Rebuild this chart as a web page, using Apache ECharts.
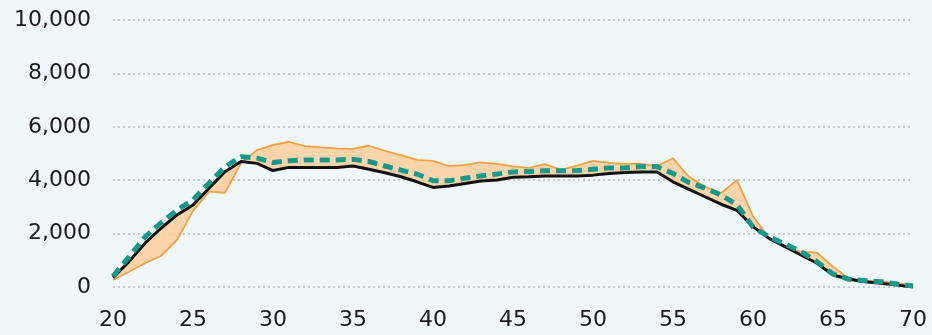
<!DOCTYPE html>
<html>
<head>
<meta charset="utf-8">
<script src="https://cdn.jsdelivr.net/npm/echarts@6/dist/echarts.min.js"></script>
<style>
html,body{margin:0;padding:0;background:#eff7fa;}
#chart{width:932px;height:335px;}
</style>
</head>
<body>
<div id="chart"></div>
<script>
const ages = [20,21,22,23,24,25,26,27,28,29,30,31,32,33,34,35,36,37,38,39,40,41,42,43,44,45,46,47,48,49,50,51,52,53,54,55,56,57,58,59,60,61,62,63,64,65,66,67,68,69,70];
const orangeVals = [260,570,890,1160,1760,2850,3570,3530,4640,5130,5320,5440,5280,5230,5190,5170,5290,5100,4940,4760,4720,4530,4570,4670,4610,4520,4460,4600,4390,4550,4720,4650,4610,4610,4530,4820,4130,3760,3510,4010,2650,1840,1510,1320,1290,760,320,240,200,140,70];
const blackVals = [350,950,1640,2200,2700,3070,3700,4320,4700,4630,4360,4480,4480,4480,4480,4530,4410,4280,4130,3940,3730,3780,3880,3970,4010,4110,4130,4160,4160,4160,4190,4250,4290,4310,4310,3940,3660,3380,3100,2870,2260,1820,1510,1200,890,450,290,200,140,70,0];
const tealVals = [400,1130,1870,2400,2880,3260,3890,4500,4880,4830,4660,4730,4760,4760,4760,4780,4700,4530,4380,4230,3980,3980,4070,4160,4230,4310,4330,4350,4350,4360,4410,4460,4460,4510,4510,4250,3910,3700,3450,3080,2250,1880,1610,1320,950,490,290,240,200,110,40];
const yTicks = [0,2000,4000,6000,8000,10000];
const xTicks = [20,25,30,35,40,45,50,55,60,65,70];

const pairs = arr => ages.map((a,i)=>[a,arr[i]]);
const chart = echarts.init(document.getElementById('chart'), null, {renderer:'canvas'});
const font = '"DejaVu Sans", sans-serif';
chart.setOption({
  backgroundColor:'#eff7fa',
  animation:false,
  grid:{left:113,right:19,top:20,bottom:48},
  xAxis:{
    type:'value', min:xTicks[0], max:xTicks[xTicks.length-1], interval:5,
    axisLine:{show:false}, axisTick:{show:false}, splitLine:{show:false},
    axisLabel:{fontSize:22,color:'#1a1a1a',fontFamily:font,margin:22}
  },
  yAxis:{
    type:'value', min:yTicks[0], max:yTicks[yTicks.length-1], interval:2000,
    axisLine:{show:false}, axisTick:{show:false},
    splitLine:{show:true,lineStyle:{type:[2,3],color:'#b9bfc2',width:1.5}},
    axisLabel:{fontSize:22,color:'#1a1a1a',fontFamily:font,margin:22,
      formatter:v=>v.toLocaleString('en-US')}
  },
  series:[
    {
      type:'custom', silent:true, z:1,
      data:[[ages[0],0]],
      renderItem:function(params, api){
        const pts=[];
        for(let i=0;i<ages.length;i++) pts.push(api.coord([ages[i],orangeVals[i]]));
        for(let i=ages.length-1;i>=0;i--) pts.push(api.coord([ages[i],blackVals[i]]));
        return {type:'polygon',shape:{points:pts},style:{fill:'rgba(252,208,160,0.9)',stroke:null}};
      }
    },
    {type:'line',data:pairs(orangeVals),symbol:'none',z:2,
     lineStyle:{color:'#f0a346',width:1.8}},
    {type:'line',data:pairs(blackVals),symbol:'none',z:3,
     lineStyle:{color:'#111111',width:3}},
    {type:'line',data:pairs(tealVals),symbol:'none',z:4,
     lineStyle:{color:'#16998b',width:5,type:[10,6]}}
  ]
});
</script>
</body>
</html>
